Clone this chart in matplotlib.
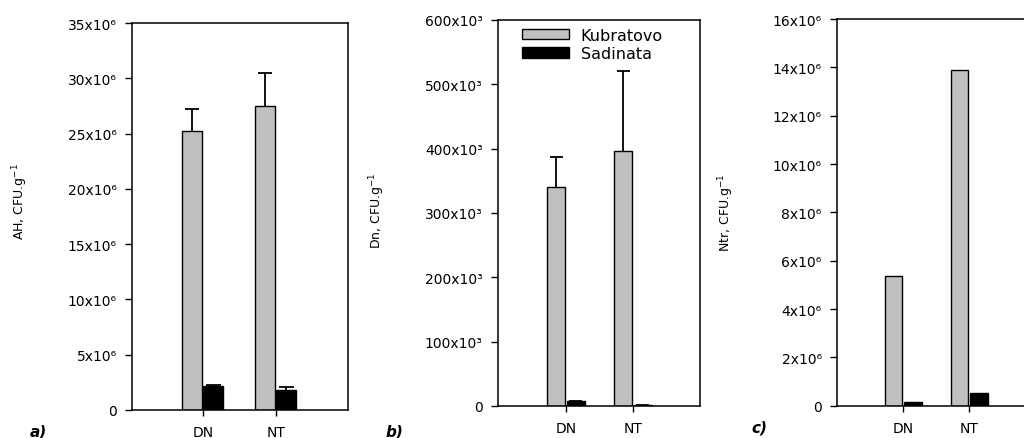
import matplotlib
matplotlib.use("Agg")
import matplotlib.pyplot as plt
import numpy as np
from matplotlib.ticker import FuncFormatter

plt.rcParams["font.family"] = ["DejaVu Sans"]

# data
sites = ["DN", "NT"]
series = ["Kubratovo", "Sadinata"]

ah_kub = [25.25e6, 27.5e6]
ah_kub_err = [2.0e6, 2.95e6]
ah_sad = [2.2e6, 1.8e6]
ah_sad_err = [0.05e6, 0.25e6]

dn_kub = [341e3, 396e3]
dn_kub_err = [46e3, 125e3]
dn_sad = [8e3, 2e3]
dn_sad_err = [0, 0]

ntr_kub = [5.38e6, 13.87e6]
ntr_sad = [0.14e6, 0.54e6]

C_KUB = "#c0c0c0"
C_SAD = "#000000"
SUP = {"3": "\u00b3", "6": "\u2076"}


def sci_fmt(exp):
    def f(v, pos):
        if v == 0:
            return "0"
        return f"{v / 10 ** exp:.0f}x10{SUP[str(exp)]}"
    return FuncFormatter(f)


def upper_err(ax, xs, vals, errs, cap=0.1):
    # one-sided (upper) error bars, no cap at the bar top
    xs = np.asarray(xs)
    tops = np.asarray(vals) + np.asarray(errs)
    ax.vlines(xs, vals, tops, color="black", linewidth=1.3, zorder=1)
    ax.hlines(tops, xs - cap, xs + cap, color="black", linewidth=1.3, zorder=1)


def panel(fig, rect, kub, sad, kub_err, sad_err, ymax, step, exp, xlim):
    ax = fig.add_axes(rect)
    x = np.arange(len(sites))
    w, off = 0.27, 0.145
    ax.bar(x - off, kub, w, color=C_KUB, edgecolor="black", linewidth=1.0,
           label=series[0], zorder=2)
    ax.bar(x + off, sad, w, color=C_SAD, edgecolor="black", linewidth=1.0,
           label=series[1], zorder=2)
    if kub_err is not None:
        upper_err(ax, x - off, kub, kub_err)
        upper_err(ax, x + off, sad, sad_err)
    ax.set_xlim(*xlim)
    ax.set_ylim(0, ymax)
    ax.set_yticks(np.arange(0, ymax + step / 2, step))
    ax.yaxis.set_major_formatter(sci_fmt(exp))
    ax.set_xticks(x)
    ax.set_xticklabels(sites)
    ax.tick_params(axis="y", direction="out", length=5, width=1.0, pad=6,
                   labelsize=10)
    ax.tick_params(axis="x", direction="out", length=4, width=1.0, pad=7,
                   labelsize=10)
    for s in ax.spines.values():
        s.set_linewidth(1.1)
    return ax


fig = plt.figure(figsize=(10.24, 4.39), dpi=100)

ax_a = panel(fig, [0.1289, 0.0638, 0.2109, 0.8815], ah_kub, ah_sad,
             ah_kub_err, ah_sad_err, 35e6, 5e6, 6, (-0.97, 1.99))
ax_b = panel(fig, [0.4863, 0.0729, 0.1973, 0.8793], dn_kub, dn_sad,
             dn_kub_err, dn_sad_err, 600e3, 100e3, 3, (-1.015, 2.0))
ax_c = panel(fig, [0.8174, 0.0736, 0.1934, 0.8808], ntr_kub, ntr_sad,
             None, None, 16e6, 2e6, 6, (-1.0, 2.0))

ax_b.legend(loc="upper left", bbox_to_anchor=(0.12, 0.98), frameon=False,
            fontsize=11.5, handlelength=2.9, handleheight=0.65,
            handletextpad=0.75, labelspacing=0.2, borderpad=0,
            borderaxespad=0)

fig.text(0.0195, 0.540, "AH, CFU.g$^{-1}$", rotation=90, ha="center",
         va="center", fontsize=9)
fig.text(0.368, 0.519, "Dn, CFU.g$^{-1}$", rotation=90, ha="center",
         va="center", fontsize=9)
fig.text(0.709, 0.515, "Ntr, CFU.g$^{-1}$", rotation=90, ha="center",
         va="center", fontsize=9)

for xx, yy, lab in [(0.037, 0.016, "a)"), (0.385, 0.016, "b)"),
                    (0.742, 0.025, "c)")]:
    fig.text(xx, yy, lab, ha="center", va="center", fontsize=11,
             fontweight="bold", style="italic")

fig.savefig("out.png", dpi=100, facecolor="white")
